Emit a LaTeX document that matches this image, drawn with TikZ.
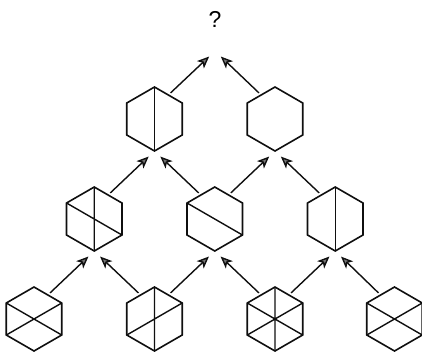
\documentclass[tikz,border=0pt]{standalone}
\usepackage{fontspec}
\setsansfont{Liberation Sans}
\usetikzlibrary{arrows.meta,shapes.geometric}
\definecolor{ink}{RGB}{15,15,15}
\definecolor{tipgray}{RGB}{120,120,120}
\tikzset{
  hexa/.style={regular polygon,regular polygon sides=6,shape border rotate=30,
    draw=ink,line width=1.6pt,minimum size=64pt,inner sep=0pt,outer sep=0pt},
  seg/.style={draw=ink,line width=1.4pt},
  arr/.style={-{Stealth[length=12pt,width=10pt,inset=3pt,fill=tipgray]},line width=1.4pt,
    draw=ink,shorten >=8pt,shorten <=3pt},
}

\begin{document}
\begin{tikzpicture}[x=1pt,y=-1pt]
  \useasboundingbox (0,0) rectangle (422,354);
  \node[hexa,draw=none,font=\sffamily\fontsize{23}{26}\selectfont] (q) at (215,19) {?};
  \node[hexa] (t1) at (154.5,119) {};
  \node[hexa] (t2) at (275,119) {};
  \node[hexa] (m1) at (94.25,219) {};
  \node[hexa] (m2) at (214.75,219) {};
  \node[hexa] (m3) at (335.25,219) {};
  \node[hexa] (h1) at (34,319) {};
  \node[hexa] (h2) at (154.5,319) {};
  \node[hexa] (h3) at (275,319) {};
  \node[hexa] (h4) at (394.5,319) {};
  % inner strokes
  \draw[seg] (t1.90) -- (t1.270);
  \draw[seg] (m1.90) -- (m1.270) (m1.150) -- (m1.330);
  \draw[seg] (m2.150) -- (m2.330);
  \draw[seg] (m3.90) -- (m3.270);
  \draw[seg] (h1.150) -- (h1.330) (h1.30) -- (h1.210);
  \draw[seg] (h2.90) -- (h2.270) (h2.210) -- (h2.30);
  \draw[seg] (h3.90) -- (h3.270) (h3.150) -- (h3.330) (h3.30) -- (h3.210);
  \draw[seg] (h4.150) -- (h4.330) (h4.30) -- (h4.210);
  % arrows
  \draw[arr] (h1.60) -- (m1.270);
  \draw[arr] (h2.120) -- (m1.270);
  \draw[arr] (h2.60) -- (m2.270);
  \draw[arr] (h3.120) -- (m2.270);
  \draw[arr] (h3.60) -- (m3.270);
  \draw[arr] (h4.120) -- (m3.270);
  \draw[arr] (m1.60) -- (t1.270);
  \draw[arr] (m2.120) -- (t1.270);
  \draw[arr] (m2.60) -- (t2.270);
  \draw[arr] (m3.120) -- (t2.270);
  \draw[arr] (t1.60) -- (q.270);
  \draw[arr] (t2.120) -- (q.270);
\end{tikzpicture}
\end{document}
